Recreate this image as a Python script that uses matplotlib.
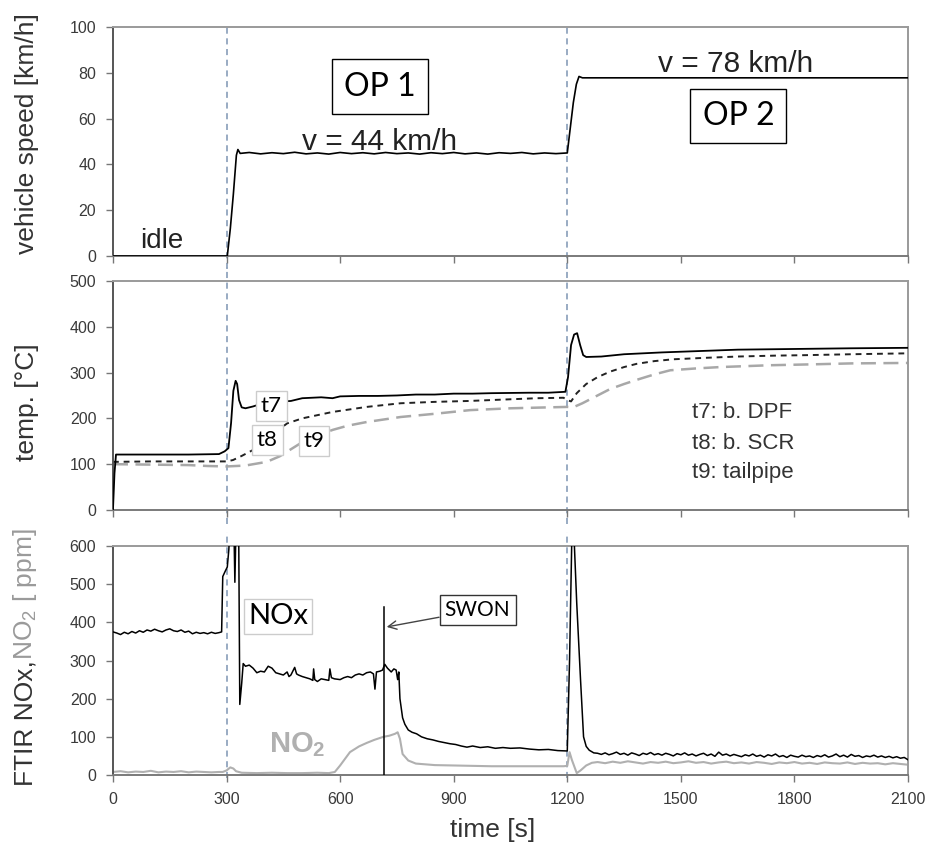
import numpy as np
import matplotlib
matplotlib.use('Agg')
import matplotlib.pyplot as plt

plt.rcParams['font.family'] = ['Liberation Sans', 'DejaVu Sans']
plt.rcParams['mathtext.default'] = 'regular'

# ---- data ----
# vehicle speed [km/h]
spd_t = [0, 302, 310, 318, 326, 330, 336, 360, 390, 420, 450, 480, 510, 540, 570, 600, 630, 660, 690, 720,
         750, 780, 810, 840, 870, 900, 930, 960, 990, 1020, 1050, 1080, 1110, 1140, 1170, 1200, 1208, 1216,
         1224, 1231, 1240, 2100]
spd_v = [0, 0, 12, 27, 44, 46.5, 44.8, 45.2, 44.6, 45.1, 44.7, 45.3, 44.6, 45, 44.5, 45.2, 44.7, 45.1, 44.6,
         45.2, 44.7, 45, 44.5, 45.1, 44.7, 45.2, 44.6, 45, 44.5, 45.1, 44.8, 45.2, 44.6, 45, 44.7, 45, 56, 67,
         75, 78.4, 77.8, 77.8]

# temperatures [degC]
t7_t = [0, 4, 8, 100, 200, 280, 295, 305, 312, 318, 324, 328, 333, 340, 350, 370, 400, 430, 470, 500,
        550, 580, 600, 650, 700, 750, 800, 850, 900, 950, 1000, 1100, 1150, 1195, 1202, 1210, 1218, 1226,
        1234, 1242, 1250, 1290, 1350, 1450, 1550, 1650, 1750, 1850, 1950, 2100]
t7_v = [0, 80, 121, 121, 121, 122, 128, 135, 190, 260, 282, 275, 240, 224, 222, 226, 234, 236, 238, 244,
        246, 244, 248, 249, 249, 250, 252, 252, 254, 254, 255, 256, 256, 258, 290, 360, 383, 386, 360, 338,
        334, 335, 340, 344, 347, 350, 351, 352, 353, 354]

t8_t = [0, 100, 200, 290, 300, 317, 340, 370, 400, 430, 460, 500, 580, 670, 760, 850, 940, 1030, 1120,
        1190, 1200, 1210, 1225, 1250, 1280, 1313, 1350, 1383, 1430, 1480, 1560, 1650, 1750, 1830, 1950, 2100]
t8_v = [105, 106, 106, 106, 106, 109, 118, 131, 150, 170, 189, 200, 214, 225, 233, 236, 238, 241, 244,
        245, 240, 237, 255, 275, 290, 302, 312, 319, 325, 329, 332, 335, 337, 338, 340, 342]

t9_t = [0, 100, 200, 250, 300, 350, 406, 440, 467, 500, 540, 581, 620, 670, 760, 850, 943, 1050, 1150,
        1200, 1215, 1240, 1280, 1313, 1350, 1383, 1430, 1472, 1540, 1604, 1670, 1736, 1850, 1950, 2100]
t9_v = [100, 99, 98, 96, 95, 97, 105, 117, 131, 148, 163, 175, 184, 192, 203, 210, 218, 222, 224,
        225, 224, 233, 250, 264, 275, 284, 296, 305, 309, 312, 314, 316, 318, 320, 321]

# FTIR NOx [ppm]: idle part sampled every 10 s from 0 s
nox_idle = [375, 372, 368, 374, 370, 376, 372, 378, 374, 380, 377, 382, 378, 375, 380, 383, 378, 376,
            380, 374, 377, 370, 374, 371, 373, 370, 374, 371, 373]
nox_mid_t = [287, 290, 297, 302, 306, 309, 316, 320, 322, 325, 332, 335, 340, 344, 350, 360, 370, 380,
             390, 400, 410, 420, 430, 440, 450, 460, 465, 470, 480, 485, 490, 500, 510, 520, 528, 530, 533,
             540, 550, 560, 570, 573, 577, 585, 600, 610, 620, 630, 640, 650, 660, 670, 680, 688, 692, 696,
             705, 712, 718, 725, 735, 742, 748, 752, 755, 758, 765, 771, 780, 790, 802, 815, 830, 845, 860,
             875, 890, 905, 920, 935, 950, 970, 990, 1010, 1030, 1050, 1075, 1100, 1125, 1150, 1175, 1195,
             1200, 1206, 1212, 1218, 1225, 1235, 1243, 1250, 1258, 1270]
nox_mid_v = [375, 520, 535, 545, 590, 650, 650, 620, 505, 650, 650, 185, 240, 292, 285, 288, 280, 268,
             272, 270, 285, 280, 268, 265, 262, 270, 258, 262, 282, 265, 262, 258, 255, 252, 248, 278, 250,
             245, 252, 250, 248, 278, 255, 252, 250, 255, 258, 255, 262, 265, 262, 268, 270, 265, 225, 270,
             272, 275, 290, 280, 270, 278, 275, 250, 270, 200, 150, 133, 118, 112, 108, 100, 95, 92, 88,
             85, 82, 80, 76, 73, 76, 72, 74, 70, 72, 70, 71, 68, 66, 67, 64, 63,
             63, 300, 620, 620, 450, 250, 100, 75, 65, 58]
# OP 2 part sampled every 10 s from 1280 s
nox_tail = [57, 54, 58, 53, 56, 60, 54, 57, 52, 58, 55, 51, 57, 54, 59, 53, 56, 52, 57, 54,
            50, 56, 53, 58, 52, 55, 50, 54, 57, 51, 55, 49, 60, 52, 55, 50, 54, 51, 48, 53,
            50, 55, 49, 52, 47, 53, 50, 55, 48, 51, 46, 52, 49, 47, 52, 48, 50, 46, 51, 48,
            53, 47, 50, 55, 48, 52, 47, 54, 49, 51, 46, 50, 48, 52, 47, 50, 46, 49, 45, 48,
            44, 46, 40]

# FTIR NO2 [ppm]: idle part every 20 s from 0 s
no2_idle = [8, 10, 7, 9, 8, 11, 7, 9, 8, 10, 7, 9, 8, 7, 8]
no2_mid_t = [290, 300, 310, 318, 325, 340, 380, 420, 460, 500, 540, 570, 586, 600, 626, 650, 670, 690,
             714, 730, 745, 752, 758, 765, 780, 800, 850, 900, 1000, 1100, 1190, 1200, 1206, 1212, 1225,
             1235, 1250, 1265]
no2_mid_v = [8, 12, 20, 17, 10, 6, 5, 6, 5, 5, 6, 5, 8, 25, 60, 75, 84, 92, 100, 103, 108, 112, 95, 55,
             38, 30, 26, 25, 23, 23, 23, 24, 60, 40, 5, 12, 25, 32]
# OP 2 part every 20 s from 1280 s
no2_tail = [34, 31, 35, 32, 36, 33, 30, 34, 32, 35, 31, 33, 36, 32, 34, 30, 33, 35, 31, 33,
            30, 34, 32, 29, 33, 31, 34, 30, 32, 29, 33, 31, 30, 33, 29, 32, 30, 31, 28, 31,
            29, 27]

swon_t = 715      # switch-on marker
swon_top = 440
op_bounds = [300, 1200]

x_ticks = [0, 300, 600, 900, 1200, 1500, 1800, 2100]
spd_ticks = [0, 20, 40, 60, 80, 100]
temp_ticks = [0, 100, 200, 300, 400, 500]
ppm_ticks = [0, 100, 200, 300, 400, 500, 600]

# build full NOx / NO2 series
nox_t = [10 * i for i in range(len(nox_idle))] + nox_mid_t + [1280 + 10 * i for i in range(len(nox_tail))]
nox_v = nox_idle + nox_mid_v + nox_tail
no2_t = [20 * i for i in range(len(no2_idle))] + no2_mid_t + [1280 + 20 * i for i in range(len(no2_tail))]
no2_v = no2_idle + no2_mid_v + no2_tail

fig = plt.figure(figsize=(9.39, 8.46), dpi=100)
ax1 = fig.add_axes([0.1203, 0.6974, 0.8467, 0.2707])
ax2 = fig.add_axes([0.1203, 0.3972, 0.8467, 0.2707])
ax3 = fig.add_axes([0.1203, 0.0839, 0.8467, 0.2707])

box_font = ['Lato', 'DejaVu Sans']


def style(ax, yticks):
    ax.set_xlim(0, 2100)
    ax.set_xticks(x_ticks)
    ax.set_ylim(yticks[0], yticks[-1])
    ax.set_yticks(yticks)
    for s in ax.spines.values():
        s.set_color('#9a9a9a')
        s.set_linewidth(1.4)
    ax.spines['left'].set_color('#555555')
    ax.spines['bottom'].set_color('#7a7a7a')
    ax.tick_params(direction='out', length=5, width=1, color='#777777',
                   labelsize=11.5, labelcolor='#3a3a3a', pad=7)


style(ax1, spd_ticks)
style(ax2, temp_ticks)
style(ax3, ppm_ticks)
ax1.tick_params(labelbottom=False)
ax2.tick_params(labelbottom=False)

# operating point boundaries, run through all three panels
for ax, lo, hi in [(ax1, -0.055, 1.0), (ax2, -0.06, 1.06), (ax3, -0.012, 1.06)]:
    for xb in op_bounds:
        ax.axvline(xb, ymin=lo, ymax=hi, clip_on=False, color='#7d95b3', lw=1.1,
                   ls=(0, (4, 3)), zorder=1)

# --- top: vehicle speed ---
ax1.plot(spd_t, spd_v, color='black', lw=1.2, zorder=3)
ax1.text(72, 3.5, 'idle', fontsize=20, color='#222222', va='baseline')
ax1.text(705, 74, 'OP 1', fontsize=23, family=box_font, ha='center', va='center',
         bbox=dict(boxstyle='square,pad=0.38', fc='white', ec='black', lw=1))
ax1.text(705, 46.5, 'v = 44 km/h', fontsize=21.5, color='#222222', ha='center', va='baseline')
ax1.text(1645, 80.5, 'v = 78 km/h', fontsize=21.5, color='#222222', ha='center', va='baseline')
ax1.text(1652, 61, 'OP 2', fontsize=23, family=box_font, ha='center', va='center',
         bbox=dict(boxstyle='square,pad=0.38', fc='white', ec='black', lw=1))

# --- middle: temperatures ---
ax2.plot(t9_t, t9_v, color='#a8a8a8', lw=1.8, ls=(0, (6, 3)), zorder=2)
ax2.plot(t8_t, t8_v, color='#222222', lw=1.4, ls=(0, (3, 2.5)), zorder=2)
ax2.plot(t7_t, t7_v, color='black', lw=1.3, zorder=3)
lab_box = dict(boxstyle='square,pad=0.22', fc='white', ec='#cccccc', lw=1)
ax2.text(418, 227, 't7', fontsize=16, family=box_font, ha='center', va='center', bbox=lab_box, zorder=5)
ax2.text(408, 152, 't8', fontsize=16, family=box_font, ha='center', va='center', bbox=lab_box, zorder=5)
ax2.text(531, 150, 't9', fontsize=16, family=box_font, ha='center', va='center', bbox=lab_box, zorder=5)
ax2.text(1529, 212, 't7: b. DPF', fontsize=16, color='#333333', va='center')
ax2.text(1529, 146, 't8: b. SCR', fontsize=16, color='#333333', va='center')
ax2.text(1529, 81, 't9: tailpipe', fontsize=16, color='#333333', va='center')

# --- bottom: FTIR NOx / NO2 ---
ax3.plot(no2_t, no2_v, color='#b0b0b0', lw=1.5, zorder=2)
ax3.plot(nox_t, nox_v, color='black', lw=1.1, zorder=3)
ax3.plot([swon_t, swon_t], [0, swon_top], color='black', lw=1.1, zorder=3)
ax3.text(436, 416, 'NOx', fontsize=21, family=box_font, ha='center', va='center', zorder=5,
         bbox=dict(boxstyle='square,pad=0.15', fc='white', ec='#cccccc', lw=1))
ax3.text(486, 80, 'NO$_2$', fontsize=21, color='#b0b0b0', fontweight='bold', ha='center', va='center')
ax3.annotate('SWON', xy=(723, 388), xytext=(963, 432), fontsize=15, family=box_font,
             ha='center', va='center',
             bbox=dict(boxstyle='square,pad=0.25', fc='white', ec='#333333', lw=1),
             arrowprops=dict(arrowstyle='->', color='#444444', lw=1, shrinkA=0, shrinkB=0))

# axis labels
lab_col = '#333333'
fig.text(0.029, 0.8416, 'vehicle speed [km/h]', fontsize=19, color=lab_col, rotation=90,
         ha='center', va='center')
fig.text(0.029, 0.5248, 'temp. [°C]', fontsize=19, color=lab_col, rotation=90,
         ha='center', va='center')
fig.text(0.027, 0.2199, 'FTIR NOx,', fontsize=19, color=lab_col, rotation=90, ha='center', va='top')
fig.text(0.027, 0.2199, 'NO$_2$ [ ppm]', fontsize=19, color='#9a9a9a', rotation=90,
         ha='center', va='bottom')
fig.text(0.525, 0.019, 'time [s]', fontsize=19, color=lab_col, ha='center', va='center')

fig.savefig('out.png', dpi=100)
